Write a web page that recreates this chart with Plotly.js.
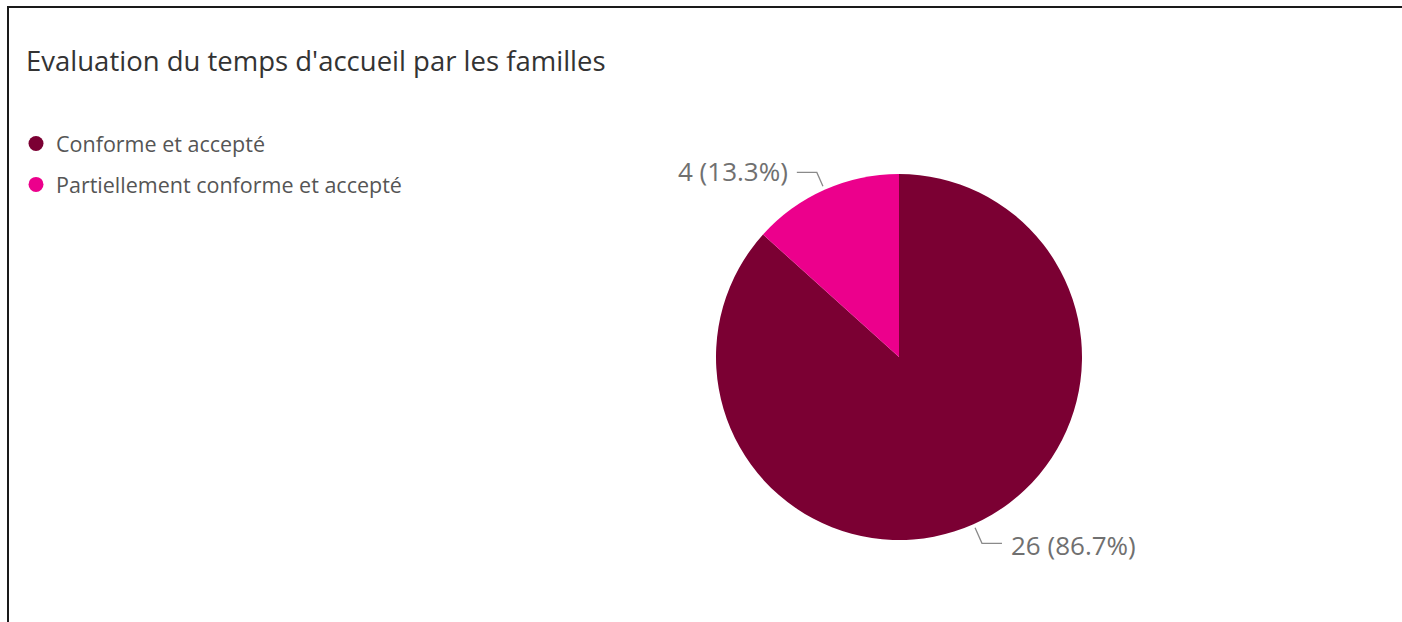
<!DOCTYPE html>
<html>
<head>
<meta charset="utf-8">
<script src="https://cdn.plot.ly/plotly-3.0.1.min.js"></script>
<style>
  html, body { margin: 0; padding: 0; background: #ffffff; overflow: hidden; }
  #frame { position: absolute; left: 7px; top: 6px; width: 1420px; height: 640px;
           border-top: 2px solid #1a1a1a; border-left: 2px solid #1a1a1a; }
  #chart { position: absolute; left: 0; top: 0; width: 1402px; height: 622px; }
</style>
</head>
<body>
<div id="frame"></div>
<div id="chart"></div>
<script>
// ---- data ----
const categories = ["Conforme et accepté", "Partiellement conforme et accepté"];
const values = [26, 4];
const colors = ["#7B0033", "#EC008C"];
const chartTitle = "Evaluation du temps d'accueil par les familles";

// ---- layout constants ----
const W = 1402, H = 622;
const cx = 899, cy = 357, R = 183;
const FONT = "Open Sans, sans-serif";

const px = x => x / W;
const py = y => 1 - y / H;

const total = values.reduce((a, b) => a + b, 0);

const pie = {
  type: "pie",
  labels: categories,
  values: values,
  sort: false,
  direction: "clockwise",
  rotation: 0,
  marker: { colors: colors, line: { width: 0 } },
  textposition: "none",
  hoverinfo: "label+value+percent",
  showlegend: false,
  domain: { x: [px(cx - R), px(cx + R)], y: [py(cy + R), py(cy - R)] }
};

// legend entries (circle symbols) linked to the categories
const legendTraces = categories.map((c, i) => ({
  type: "scatter", mode: "markers", x: [null], y: [null], name: c,
  legendgroup: "g" + i,
  marker: { symbol: "circle", size: 15, color: colors[i] },
  showlegend: true, hoverinfo: "skip"
}));

// outside labels with leader lines, placed from slice mid-angles
const annotations = [];
const shapes = [];
let cum = 0;
values.forEach((v, i) => {
  const mid = (cum + v / 2) / total * 2 * Math.PI; // clockwise from 12 o'clock
  cum += v;
  const dx = Math.sin(mid), dy = -Math.cos(mid);
  const lead = dy > 0 ? 21 : 19;
  const p0 = [cx + (R + 4) * dx, cy + (R + 4) * dy];
  const p1 = [cx + (R + lead) * dx, cy + (R + lead) * dy];
  const side = dx >= 0 ? 1 : -1;
  const p2 = [p1[0] + side * 20, p1[1]];
  shapes.push({
    type: "path", xref: "paper", yref: "paper",
    path: `M ${px(p0[0])} ${py(p0[1])} L ${px(p1[0])} ${py(p1[1])} L ${px(p2[0])} ${py(p2[1])}`,
    line: { color: "#8a8a8a", width: 1.3 }
  });
  const pct = (v / total * 100).toFixed(1);
  annotations.push({
    xref: "paper", yref: "paper",
    x: px(p2[0] + side * 7), y: py(p1[1] + (dy > 0 ? 2 : -1.5)),
    xanchor: side > 0 ? "left" : "right", yanchor: "middle",
    text: `${v} (${pct}%)`, showarrow: false,
    font: { family: FONT, size: 26, color: "#707070" }
  });
});

const layout = {
  width: W, height: H,
  margin: { l: 0, r: 0, t: 0, b: 0 },
  paper_bgcolor: "rgba(0,0,0,0)",
  plot_bgcolor: "rgba(0,0,0,0)",
  title: {
    text: chartTitle, xref: "container", yref: "container",
    x: px(26), xanchor: "left", y: py(61), yanchor: "middle",
    font: { family: FONT, size: 27.5, color: "#333333" }
  },
  xaxis: { visible: false, domain: [0, 0.05] },
  yaxis: { visible: false, domain: [0, 0.05] },
  showlegend: true,
  legend: {
    x: px(16), y: py(123), xanchor: "left", yanchor: "top",
    orientation: "v", itemwidth: 30,
    font: { family: FONT, size: 21.5, color: "#555555" },
    bgcolor: "rgba(0,0,0,0)", tracegroupgap: 10
  },
  annotations: annotations,
  shapes: shapes
};

Plotly.newPlot("chart", [pie].concat(legendTraces), layout, { displayModeBar: false, staticPlot: true });
</script>
</body>
</html>
